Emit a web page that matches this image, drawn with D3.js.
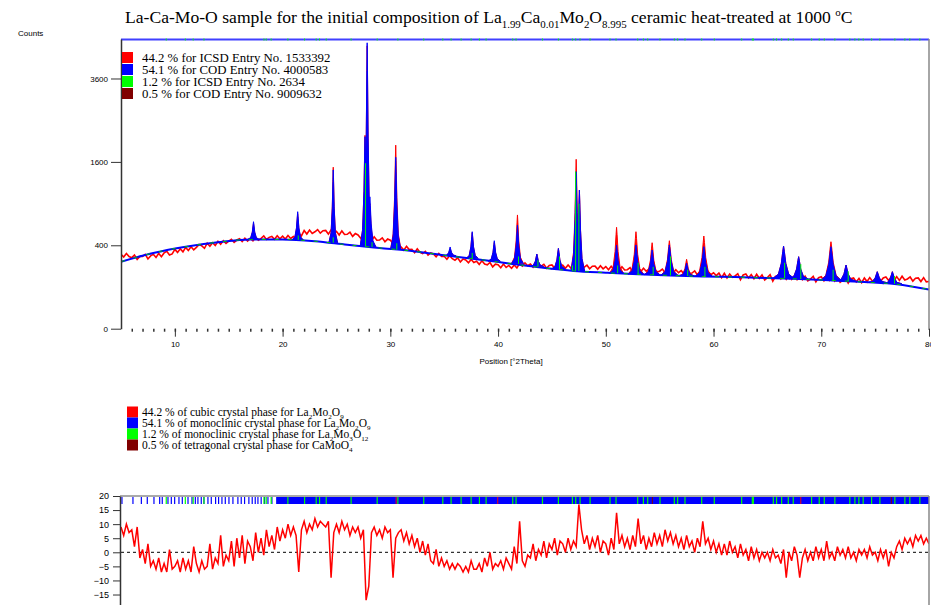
<!DOCTYPE html>
<html>
<head>
<meta charset="utf-8">
<script src="https://cdn.jsdelivr.net/npm/d3@7/dist/d3.min.js"></script>
<style>
  body { margin: 0; background: #fff; }
  svg { display: block; }
</style>
</head>
<body>
<svg id="chart"></svg>
<script>
// ---- data ----
const obsStart = 5, obsStep = 0.25;
// observed counts, every 0.25 deg from 5 to 80
const obsCounts = [
  318,296,325,300, 290,312,276,300, 300,318,280,305, 318,292,326,298, 330,345,312,322,
  362,335,368,340, 380,352,386,358, 380,408,395,372, 420,390,425,398, 440,410,446,418,
  440,460,428,452, 466,436,470,442, 470,445,478,450, 470,494,458,480, 490,460,496,465,
  492,462,500,468, 488,470,520,495, 555,515,560,522, 540,565,525,552, 555,515,562,520,
  545,505,550,510, 512,535,490,520, 505,470,510,475, 480,445,486,450, 452,475,435,462,
  450,418,440,392, 385,355,390,360, 362,332,366,336, 325,344,312,330, 322,298,326,300,
  302,278,306,282, 270,288,256,280, 272,250,276,252, 262,238,265,240, 235,252,220,240,
  236,214,240,216, 230,210,234,212, 245,225,248,228, 240,218,244,222, 225,238,210,230,
  234,212,236,214, 232,210,234,212, 234,214,236,216, 218,232,206,224, 225,204,228,206,
  222,200,224,202, 218,196,220,198, 200,214,188,206, 208,188,210,190, 204,184,206,186,
  190,204,180,198, 198,178,200,180, 194,174,196,176, 178,192,166,184, 186,166,188,168,
  180,162,178,150, 176,148,172,152, 160,174,138,166, 172,148,168,144, 170,146,166,136,
  150,168,130,158, 165,142,162,140, 162,140,160,138, 160,138,158,132, 142,158,126,150,
  155,132,152,134, 154,130,150,124, 136,150,120,144, 148,126,146,122, 148,128,150,130,
  140,154,128,148, 154,134,156,132, 156,134,158,136, 142,154,130,146, 148,128,150,126,
  128
];

// fitted background
const bgTheta  = [5, 8, 11, 14, 17, 20, 23, 26, 29, 32, 35, 38, 41, 44, 47, 50, 53, 56, 59, 62, 65, 68, 71, 74, 77, 80];
const bgCounts = [258, 330, 387, 430, 458, 458, 440, 405, 375, 347, 310, 278, 245, 215, 192, 180, 170, 163, 157, 153, 148, 142, 134, 125, 114, 88];

// reflections: position, observed top, calculated top, background under it, width (deg)
const peakPos   = [17.3, 21.4, 24.7, 27.65, 27.85, 28.1, 30.5, 35.55, 37.6, 39.65, 41.8, 43.6, 45.6, 47.25, 47.55, 51.0, 52.8, 54.3, 55.9, 57.5, 59.1, 66.5, 67.9, 70.9, 72.3, 75.2, 76.6];
const peakObs   = [640, 760, 1500, 2150, 4600, 900, 1937, 370, 530, 430, 744, 320, 370, 1650, 1104, 591, 541, 425, 445, 277, 494, 393, 298, 435, 233, 187, 187];
const peakCalc  = [658, 787, 1450, 2120, 4700, 1000, 1690, 384, 541, 445, 617, 321, 371, 1417, 1104, 403, 403, 356, 403, 246, 387, 393, 298, 387, 233, 187, 187];
const peakBase  = [458, 453, 425, 390, 388, 385, 360, 305, 283, 262, 243, 222, 205, 193, 192, 177, 170, 167, 163, 160, 157, 146, 142, 134, 131, 122, 116];
const peakWidth = [0.32, 0.32, 0.25, 0.28, 0.25, 0.35, 0.3, 0.35, 0.35, 0.35, 0.35, 0.4, 0.4, 0.3, 0.3, 0.4, 0.45, 0.45, 0.5, 0.45, 0.5, 0.6, 0.55, 0.6, 0.55, 0.55, 0.55];

// minor phase (green) contributions
const greenPos  = [21.45, 24.7, 27.7, 28.3, 30.6, 37.6, 41.9, 43.7, 45.7, 46.9, 47.2, 47.5, 51.1, 53.0, 54.4, 56.0, 57.6, 59.2, 66.6, 68.1, 71.1, 72.5, 76.8];
const greenBase = [453, 425, 389, 383, 358, 283, 242, 221, 205, 195, 193, 192, 177, 170, 167, 163, 160, 157, 146, 142, 134, 131, 116];
const greenTop  = [500, 480, 1575, 430, 420, 330, 300, 270, 300, 230, 1420, 900, 230, 250, 220, 300, 200, 220, 250, 240, 200, 190, 160];

// reflection marker positions
const reflBlue = [5.09, 6.11, 6.89, 7.44, 8.06, 8.59, 8.83, 9.36, 9.67, 9.98, 10.38, 10.69, 11.22, 11.59, 11.9, 12.14, 12.45, 12.7,
                  13.07, 13.38, 13.78, 14.06, 14.37, 14.68, 15.02, 15.39, 15.85, 16.16, 16.47, 16.87, 17.18, 17.46, 17.71, 18.01,
                  18.33, 18.64, 19.01];
const reflDenseFrom = 19.4;
const reflGreen = [9.2, 10.97, 11.7, 12.7, 18.27, 18.48, 18.94, 20.49, 22.04, 23.12, 23.43, 24.05, 26.36, 28.78, 30.7, 33.1, 34.87,
                   35.64, 36.57, 37.5, 38.27, 38.89, 41.36, 41.67, 44.12, 45.6, 46.9, 47.21, 47.61, 48.54, 50.39, 50.95, 52.96,
                   53.49, 53.89, 55.03, 56.36, 56.67, 57.35, 58.9, 60.07, 62.61, 63.6, 63.7, 65.55, 65.85, 66.32, 66.94, 67.4,
                   69.1, 69.81, 70.28, 71.26, 72.65, 73.12, 73.49, 73.89, 74.67, 75.44, 76.83, 77.76, 78.22, 79.15];
const reflRed  = [30.54, 39.97, 68.1];
const reflDark = [54.32, 76.5];

// difference curve, every 0.25 deg from 5 to 80
const resid = [
  9,6,10,7, 8,2,9,-2, 1,-4,3,-5, -3,-6,-2,-7, -4,-7,1,-6, -5,-3,-7,-2, -6,-3,-7,2, -4,-7,-3,-6,
  -5,3,-6,-2, -4,6,-5,-1, -3,4,-5,5, -2,6,-4,4, 2,-3,7,0, 5,-1,8,2, 6,1,9,4, 8,5,10,6,
  9,6,-7,8, 11,7,10,8, 12,9,11,10, 9,11,-9,7, 10,7,11,8, 10,6,9,7, 9,5,8,-17, -12,7,9,6,
  8,5,9,7, 8,-9,5,7, 8,4,7,3, 6,2,5,0, 4,-1,3,-3, -4,1,-5,-2, -5,-3,-6,-4, -6,-4,-5,-7,
  -5,-7,-3,-6, -6,-4,-7,-2, -5,0,-6,-4, -5,-3,-6,-2, -4,-6,2,-4, 11,-3,-5,-1, -2,3,-3,1,
  -1,4,-2,3, 1,5,-1,4, 3,0,5,1, 4,2,17,8, 3,6,1,5, 2,6,0,4, 3,-1,5,1, 14,3,6,2, 5,1,6,2,
  12,3,6,1, 5,2,7,3, 6,2,8,4, 7,3,6,2, 5,1,6,2, 4,0,5,2, 11,3,5,1, 4,0,3,-1, 3,-1,4,0,
  2,-2,3,-1, 1,-3,2,-2, 1,-3,0,-2, 0,-3,1,-2, -1,-4,1,-9, 0,-3,2,-1, -9,-2,1,-3, 0,-3,2,-2,
  1,-3,4,-2, 0,-3,2,-1, 1,-2,2,-2, 0,-3,1,-1, 1,-2,2,-1, 0,-3,1,-2, 1,-5,0,-2, 2,4,1,5,
  3,5,2,6, 4,6,3,5, 3
];

const xTicks = [10, 20, 30, 40, 50, 60, 70, 80];
const yTicks = [0, 400, 1600, 3600];
const residTicks = [20, 15, 10, 5, 0, -5, -10, -15];

const titleParts = [["La-Ca-Mo-O sample for the initial composition of La", ""], ["1.99", "sub"], ["Ca", ""], ["0.01", "sub"],
  ["Mo", ""], ["2", "sub"], ["O", ""], ["8.995", "sub"], [" ceramic heat-treated at 1000 ", ""], ["o", "sup"], ["C", ""]];

const colors = ["#ff0000", "#0000ff", "#00ff00", "#800000"];
const legendTop = [
  [["44.2 % for ICSD Entry No. 1533392", ""]],
  [["54.1 % for COD Entry No. 4000583", ""]],
  [["1.2 % for ICSD Entry No. 2634", ""]],
  [["0.5 % for COD Entry No. 9009632", ""]]
];
const legendBottom = [
  [["44.2 % of cubic crystal phase for La", ""], ["2", "sub"], ["Mo", ""], ["2", "sub"], ["O", ""], ["9", "sub"]],
  [["54.1 % of monoclinic crystal phase for La", ""], ["2", "sub"], ["Mo", ""], ["2", "sub"], ["O", ""], ["9", "sub"]],
  [["1.2 % of monoclinic crystal phase for La", ""], ["2", "sub"], ["Mo", ""], ["3", "sub"], ["O", ""], ["12", "sub"]],
  [["0.5 % of tetragonal crystal phase for CaMoO", ""], ["4", "sub"]]
];

// ---- drawing ----
let w = 931;
let h = 605;
let sans = "'Liberation Sans', Arial, sans-serif";
let serif = "'Liberation Serif', 'Times New Roman', serif";

let svg = d3.select('#chart').attr('width', w).attr('height', h);

let xScale = d3.scaleLinear().domain([5, 80]).range([121, 929]);
let yScale = d3.scaleSqrt().domain([0, 4826]).range([328.7, 39]);
let rScale = d3.scaleLinear().domain([-20, 20]).range([608.6, 496]);

let obsTheta = obsCounts.map((c, i) => obsStart + i * obsStep);

let richText = (sel, parts, fs, subShift) => {
  let shift = 0;
  parts.forEach(p => {
    let target = p[1] === 'sub' ? fs * subShift : p[1] === 'sup' ? -fs * 0.4 : 0;
    sel.append('tspan')
       .attr('dy', target - shift)
       .attr('font-size', p[1] ? fs * 0.62 : fs)
       .text(p[0]);
    shift = target;
  });
};

// title
let title = svg.append('text')
               .attr('x', 125).attr('y', 23)
               .attr('font-family', serif)
               .attr('fill', '#000');
richText(title, titleParts, 17.6, 0.3);

svg.append('text').attr('x', 18).attr('y', 36)
   .attr('font-family', sans).attr('font-size', 8).text('Counts');

// clip areas
let defs = svg.append('defs');
defs.append('clipPath').attr('id', 'clipTop').append('rect')
    .attr('x', 121).attr('y', 39).attr('width', 808).attr('height', 290);
defs.append('clipPath').attr('id', 'clipRes').append('rect')
    .attr('x', 121).attr('y', 496).attr('width', 808).attr('height', 120);

let plot = svg.append('g').attr('clip-path', 'url(#clipTop)');

// observed profile
let obsLine = d3.line().x((d, i) => xScale(obsTheta[i])).y(d => yScale(d));
plot.append('path').datum(obsCounts)
    .attr('d', obsLine)
    .attr('fill', 'none').attr('stroke', '#ff0000').attr('stroke-width', 1.6);

let peakShape = (i, top) => {
  let p = peakPos[i], wd = peakWidth[i], b = peakBase[i], dh = top - b;
  return [[p - wd * 1.6, b], [p - wd * 0.8, b + dh * 0.1], [p - wd * 0.35, b + dh * 0.4], [p - wd * 0.12, b + dh * 0.8], [p, top],
          [p + wd * 0.12, b + dh * 0.8], [p + wd * 0.35, b + dh * 0.4], [p + wd * 0.8, b + dh * 0.1], [p + wd * 1.6, b]];
};
let peakLine = d3.line().x(d => xScale(d[0])).y(d => yScale(d[1]));

// observed peaks
plot.append('g').selectAll('path')
    .data(peakPos)
    .enter()
    .append('path')
    .attr('d', (d, i) => peakLine(peakShape(i, peakObs[i])))
    .attr('fill', '#ff0000').attr('stroke', '#ff0000').attr('stroke-width', 1);

// calculated peaks (filled)
plot.append('g').selectAll('path')
    .data(peakPos)
    .enter()
    .append('path')
    .attr('d', (d, i) => peakLine(peakShape(i, peakCalc[i])))
    .attr('fill', '#0000ff').attr('stroke', '#0000ff').attr('stroke-width', 1);

// background
let bgLine = d3.line().x((d, i) => xScale(bgTheta[i])).y(d => yScale(d)).curve(d3.curveMonotoneX);
plot.append('path').datum(bgCounts)
    .attr('d', bgLine)
    .attr('fill', 'none').attr('stroke', '#0000ff').attr('stroke-width', 2);
plot.append('path').datum(bgCounts)
    .attr('d', bgLine)
    .attr('fill', 'none').attr('stroke', '#00cc00').attr('stroke-width', 1)
    .attr('stroke-dasharray', '4,9');

// green phase lines
plot.append('g').selectAll('line')
    .data(greenPos)
    .enter()
    .append('line')
    .attr('x1', d => xScale(d)).attr('x2', d => xScale(d))
    .attr('y1', (d, i) => yScale(greenBase[i]))
    .attr('y2', (d, i) => yScale(greenTop[i]))
    .attr('stroke', '#00ff00').attr('stroke-width', 1);

// top border with markers
svg.append('line').attr('x1', 121).attr('x2', 929).attr('y1', 39.5).attr('y2', 39.5)
   .attr('stroke', '#4040ff').attr('stroke-width', 2);
svg.append('g').selectAll('line')
   .data(reflGreen)
   .enter()
   .append('line')
   .attr('x1', d => xScale(d)).attr('x2', d => xScale(d))
   .attr('y1', 38.5).attr('y2', 40.5)
   .attr('stroke', '#00ff00').attr('stroke-width', 1);
svg.append('line').attr('x1', 929).attr('x2', 929).attr('y1', 39).attr('y2', 330)
   .attr('stroke', '#888').attr('stroke-width', 1.5);

// axes of the top plot
let yAxis = d3.axisLeft(yScale).tickValues(yTicks).tickFormat(d3.format('d'))
              .tickSize(10).tickSizeOuter(0).tickPadding(3);
let yAxisG = svg.append('g').attr('transform', 'translate(121,0)').call(yAxis);
yAxisG.select('.domain').attr('stroke', '#333').attr('stroke-width', 1.5);
yAxisG.selectAll('.tick line').attr('stroke', '#333');
yAxisG.selectAll('text').attr('font-family', sans).attr('font-size', 8).attr('fill', '#000');

let xMinor = d3.axisBottom(xScale).tickValues(d3.range(6, 80, 1)).tickSize(3).tickFormat('');
let xMinorG = svg.append('g').attr('transform', 'translate(0,328.7)').call(xMinor);
xMinorG.select('.domain').remove();
xMinorG.selectAll('.tick line').attr('stroke', '#333').attr('stroke-width', 1.5);

let xAxis = d3.axisBottom(xScale).tickValues(xTicks).tickSize(8).tickPadding(5);
let xAxisG = svg.append('g').attr('transform', 'translate(0,328.7)').call(xAxis);
xAxisG.select('.domain').remove();
xAxisG.selectAll('.tick line').attr('stroke', '#333');
xAxisG.selectAll('text').attr('font-family', sans).attr('font-size', 8).attr('fill', '#000');

svg.append('text').attr('x', 511).attr('y', 364).attr('text-anchor', 'middle')
   .attr('font-family', sans).attr('font-size', 8).text('Position [°2Theta]');

// legends
let drawLegend = (items, x0, y0, step, sq, tx, fs) => {
  items.forEach((parts, i) => {
    svg.append('rect')
       .attr('x', x0).attr('y', y0 + i * step - sq / 2)
       .attr('width', sq).attr('height', sq)
       .attr('fill', colors[i]);
    let t = svg.append('text')
               .attr('x', tx).attr('y', y0 + i * step + fs * 0.35)
               .attr('font-family', serif).attr('fill', '#000');
    richText(t, parts, fs, 0.22);
  });
};
drawLegend(legendTop, 122, 57.5, 12, 11, 142, 12.8);
drawLegend(legendBottom, 127, 412, 11, 11, 142, 11.5);

// ---- difference plot ----
let res = svg.append('g').attr('clip-path', 'url(#clipRes)');

// reflection marker band
res.append('rect')
   .attr('x', xScale(reflDenseFrom)).attr('y', 497)
   .attr('width', xScale(80) - xScale(reflDenseFrom)).attr('height', 7)
   .attr('fill', '#0000ff');
let markers = (data, color, width) => {
  res.append('g').selectAll('line')
     .data(data)
     .enter()
     .append('line')
     .attr('x1', d => xScale(d)).attr('x2', d => xScale(d))
     .attr('y1', 497).attr('y2', 504)
     .attr('stroke', color).attr('stroke-width', width);
};
markers(reflBlue, '#0000ff', 1.2);
markers(reflGreen, '#00ff00', 1.2);
markers(reflRed, '#ff0000', 1);
markers(reflDark, '#800000', 1);

res.append('line')
   .attr('x1', 121).attr('x2', 929)
   .attr('y1', rScale(0)).attr('y2', rScale(0))
   .attr('stroke', '#000').attr('stroke-width', 1).attr('stroke-dasharray', '3,3');

let resLine = d3.line().x((d, i) => xScale(obsTheta[i])).y(d => rScale(d));
res.append('path').datum(resid)
   .attr('d', resLine)
   .attr('fill', 'none').attr('stroke', '#ff0000').attr('stroke-width', 1.5);

svg.append('line').attr('x1', 120).attr('x2', 929).attr('y1', 496).attr('y2', 496)
   .attr('stroke', '#555').attr('stroke-width', 1);
svg.append('line').attr('x1', 929).attr('x2', 929).attr('y1', 496).attr('y2', 605)
   .attr('stroke', '#888').attr('stroke-width', 1.5);

let rAxis = d3.axisLeft(rScale).tickValues(residTicks).tickSize(7).tickSizeOuter(0).tickPadding(4);
let rAxisG = svg.append('g').attr('transform', 'translate(120,0)').call(rAxis);
rAxisG.select('.domain').attr('stroke', '#333').attr('stroke-width', 1.5);
rAxisG.selectAll('.tick line').attr('stroke', '#333');
rAxisG.selectAll('text').attr('font-family', sans).attr('font-size', 9).attr('fill', '#000');
</script>
</body>
</html>
